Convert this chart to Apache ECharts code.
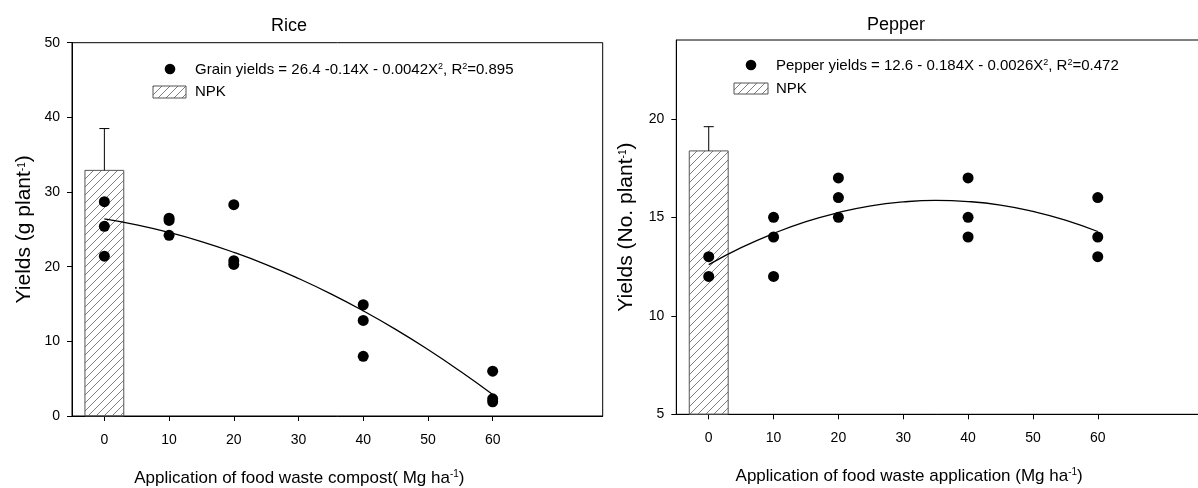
<!DOCTYPE html>
<html><head><meta charset="utf-8">
<script src="https://cdn.jsdelivr.net/npm/echarts@6/dist/echarts.min.js"></script>
<style>html,body{margin:0;padding:0;background:#fff}#c{width:1198px;height:488px}</style>
</head><body><div id="c"></div>
<script>
// ---- data ----
const riceX = [0,0,0, 10,10,10, 20,20,20, 40,40,40, 60,60,60];
const riceY = [28.7,25.4,21.4, 26.5,26.2,24.2, 28.3,20.8,20.3, 14.9,12.8,8.0, 6.0,2.3,1.9];
const riceFitX = [0,5,10,15,20,25,30,35,40,45,50,55,60];
const riceFitY = [26.4,25.6,24.58,23.36,21.92,20.28,18.42,16.36,14.08,11.6,8.9,5.99,2.88];
const riceNpk = [0, 32.9, 38.5]; // x, mean, mean+error

const pepX = [0,0, 10,10,10, 20,20,20, 40,40,40, 60,60,60];
const pepY = [13,12, 15,14,12, 17,16,15, 17,15,14, 16,14,13];
const pepFitX = [0,5,10,15,20,25,30,35,40,45,50,55,60];
const pepFitY = [12.6,13.46,14.18,14.78,15.24,15.58,15.78,15.86,15.8,15.62,15.3,14.86,14.28];
const pepNpk = [0, 18.37, 19.6];

const xTicks = [0,10,20,30,40,50,60];
const riceYTicks = [0,10,20,30,40,50];
const pepYTicks = [5,10,15,20];

// ---- styles ----
const FONT = "'Liberation Sans', Arial, sans-serif";
const BAR_HALF = 3;
function makeHatch(){
  const c = document.createElement('canvas'); c.width = 8; c.height = 8;
  const g = c.getContext('2d'); g.strokeStyle = '#707070'; g.lineWidth = 0.9;
  g.beginPath();
  g.moveTo(0,8); g.lineTo(8,0);
  g.moveTo(-1,1); g.lineTo(1,-1);
  g.moveTo(7,9); g.lineTo(9,7);
  g.stroke();
  return c;
}
const hatch = {image: makeHatch(), repeat: 'repeat'};
const sup = {fontSize: 10, fontFamily: FONT, color: '#000', verticalAlign: 'bottom', padding: [0,0,8,0]};
const supS = {fontSize: 9, fontFamily: FONT, color: '#000', verticalAlign: 'bottom', padding: [0,0,7,0]};

const pairs = (xs, ys) => xs.map((x,i)=>[x, ys[i]]);

function barRender(yMin){
  return function(params, api){
    const x = api.value(0), v = api.value(1), e = api.value(2);
    const p0 = api.coord([x - BAR_HALF, v]);
    const p1 = api.coord([x + BAR_HALF, yMin]);
    const c = api.coord([x, v]);
    const pe = api.coord([x, e]);
    return {type:'group', children:[
      {type:'rect', shape:{x:p0[0], y:p0[1], width:p1[0]-p0[0], height:p1[1]-p0[1]},
       style:{fill: hatch, stroke:'#555', lineWidth:1}},
      {type:'line', shape:{x1:c[0], y1:p0[1], x2:c[0], y2:pe[1]}, style:{stroke:'#000', lineWidth:1}},
      {type:'line', shape:{x1:c[0]-5, y1:pe[1], x2:c[0]+5, y2:pe[1]}, style:{stroke:'#000', lineWidth:1}}
    ]};
  };
}

function xAxis(gi, name, shift){
  return {type:'value', gridIndex:gi, min:-5, max:77,
    axisLine:{onZero:false, lineStyle:{color:'#000', width:1}},
    axisTick:{show:true, length:5, inside:false, customValues:xTicks, lineStyle:{color:'#000'}},
    axisLabel:{customValues:xTicks, margin:17, fontSize:14, fontFamily:FONT, color:'#000'},
    splitLine:{show:false},
    name:name, nameLocation:'middle', nameGap:53,
    nameTextStyle:{fontSize:17, fontFamily:FONT, color:'#000', rich:{sup:sup}, padding:[0, shift, 0, 0]}
  };
}
function yAxis(gi, min, max, ticks, name, gap){
  return {type:'value', gridIndex:gi, min:min, max:max,
    axisLine:{onZero:false, lineStyle:{color:'#000', width:1}},
    axisTick:{show:true, length:5, inside:false, customValues:ticks, lineStyle:{color:'#000'}},
    axisLabel:{customValues:ticks, margin:12, fontSize:14, fontFamily:FONT, color:'#000'},
    splitLine:{show:false},
    name:name, nameLocation:'middle', nameGap:gap, nameRotate:90,
    nameTextStyle:{fontSize:21, fontFamily:FONT, color:'#000', rich:{sup:sup}}
  };
}

const chart = echarts.init(document.getElementById('c'), null, {renderer:'canvas'});
const legText = {fontSize:15, fontFamily:FONT, fill:'#000'};
chart.setOption({
  animation:false,
  backgroundColor:'#fff',
  title:[
    {text:'Rice', left:284, top:12, textAlign:'center', textStyle:{fontSize:18, fontWeight:'normal', fontFamily:FONT, color:'#000'}},
    {text:'Pepper', left:891, top:11, textAlign:'center', textStyle:{fontSize:18, fontWeight:'normal', fontFamily:FONT, color:'#000'}}
  ],
  grid:[
    {left:72, top:42.7, right:595.3, bottom:72, show:true, borderColor:'#000', borderWidth:1, backgroundColor:'transparent', outerBoundsMode:'none', containLabel:false},
    {left:676.3, top:40, right:-10, bottom:73.7, show:true, borderColor:'#000', borderWidth:1, backgroundColor:'transparent', outerBoundsMode:'none', containLabel:false}
  ],
  xAxis:[
    xAxis(0, 'Application of food waste compost( Mg ha{sup|-1})', 76),
    xAxis(1, 'Application of food waste application (Mg ha{sup|-1})', 66)
  ],
  yAxis:[
    yAxis(0, 0, 50, riceYTicks, 'Yields (g plant{sup|-1})', 37),
    yAxis(1, 5, 24, pepYTicks, 'Yields (No. plant{sup|-1})', 40)
  ],
  series:[
    {type:'custom', xAxisIndex:0, yAxisIndex:0, z:1, data:[riceNpk], renderItem:barRender(0), clip:false},
    {type:'line', xAxisIndex:0, yAxisIndex:0, z:3, data:pairs(riceFitX, riceFitY), smooth:true, showSymbol:false,
     lineStyle:{color:'#000', width:1.3}},
    {type:'scatter', xAxisIndex:0, yAxisIndex:0, z:4, data:pairs(riceX, riceY), symbol:'circle', symbolSize:11,
     itemStyle:{color:'#000', opacity:1}},
    {type:'custom', xAxisIndex:1, yAxisIndex:1, z:1, data:[pepNpk], renderItem:barRender(5), clip:false},
    {type:'line', xAxisIndex:1, yAxisIndex:1, z:3, data:pairs(pepFitX, pepFitY), smooth:true, showSymbol:false,
     lineStyle:{color:'#000', width:1.3}},
    {type:'scatter', xAxisIndex:1, yAxisIndex:1, z:4, data:pairs(pepX, pepY), symbol:'circle', symbolSize:11,
     itemStyle:{color:'#000', opacity:1}}
  ],
  graphic:[
    {type:'circle', shape:{cx:170, cy:69, r:5.3}, style:{fill:'#000'}},
    {type:'text', x:195, y:70, style:Object.assign({text:'Grain yields = 26.4 -0.14X - 0.0042X{sup|2}, R{sup|2}=0.895', verticalAlign:'middle', rich:{sup:supS}}, legText)},
    {type:'rect', shape:{x:153, y:86, width:33, height:12}, style:{fill:hatch, stroke:'#555', lineWidth:1}},
    {type:'text', x:195, y:92, style:Object.assign({text:'NPK', verticalAlign:'middle'}, legText)},

    {type:'circle', shape:{cx:751, cy:65, r:5.3}, style:{fill:'#000'}},
    {type:'text', x:776, y:66, style:Object.assign({text:'Pepper yields = 12.6 - 0.184X - 0.0026X{sup|2}, R{sup|2}=0.472', verticalAlign:'middle', rich:{sup:supS}}, legText)},
    {type:'rect', shape:{x:734, y:83, width:34, height:11}, style:{fill:hatch, stroke:'#555', lineWidth:1}},
    {type:'text', x:776, y:89, style:Object.assign({text:'NPK', verticalAlign:'middle'}, legText)}
  ]
});
</script></body></html>
